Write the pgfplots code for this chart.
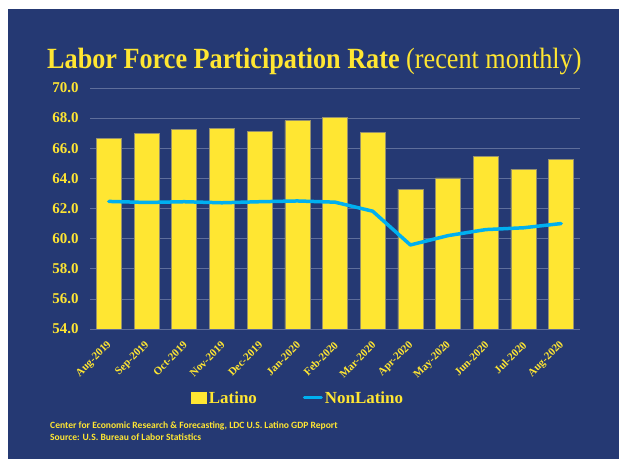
\documentclass[border=0pt]{standalone}
\usepackage{pgfplots}
\pgfplotsset{compat=1.18}
\usepackage{fontspec}
\setmainfont{Liberation Serif}
\newfontfamily\footfont{Carlito}
\definecolor{navy}{RGB}{37,57,115}
\definecolor{bary}{RGB}{255,230,50}
\definecolor{liney}{RGB}{0,176,240}
\definecolor{gridc}{RGB}{95,110,155}
\definecolor{barborder}{RGB}{150,145,110}
\begin{document}
\begin{tikzpicture}
\useasboundingbox (0bp,0bp) rectangle (619bp,459bp);
\fill[white] (0bp,0bp) rectangle (619bp,459bp);
\fill[navy] (8bp,0bp) rectangle (619bp,450bp);
\node[anchor=base west, text=bary, inner sep=0pt, yscale=1.12] at (47bp,390bp)
  {\fontsize{26.3}{30}\selectfont\bfseries Labor Force Participation Rate \mdseries(recent monthly)};
\begin{axis}[
  at={(90bp,130bp)}, anchor=south west,
  scale only axis, width=490bp, height=241bp,
  xmin=-0.5, xmax=12.5, ymin=54, ymax=70,
  ytick={54,56,...,70},
  xtick={0,...,12},
  xticklabels={Aug-2019,Sep-2019,Oct-2019,Nov-2019,Dec-2019,Jan-2020,Feb-2020,Mar-2020,Apr-2020,May-2020,Jun-2020,Jul-2020,Aug-2020},
  axis line style={draw=none},
  major tick length=0pt,
  ymajorgrids, major grid style={gridc, line width=0.7bp},
  yticklabel style={font=\fontsize{15}{18}\selectfont\bfseries, text=bary, xshift=-8bp},
  xticklabel style={rotate=45, anchor=east, font=\fontsize{11}{13}\selectfont\bfseries, text=bary, xshift=-6bp, yshift=-11bp},
  /pgf/number format/.cd, fixed, fixed zerofill, precision=1, assume math mode=true,
  /pgfplots/.cd,
  legend columns=2,
  legend style={at={(0.425,-0.286)}, anchor=center, draw=none, fill=none, text=bary,
    font=\fontsize{17}{20}\selectfont\bfseries,
    /tikz/every even column/.append style={column sep=44bp}},
]
\addplot[ybar, bar width=25bp, fill=bary, draw=barborder, line width=0.5bp,
  legend image code/.code={\fill[bary] (0bp,-5bp) rectangle (15bp,6bp);}]
  coordinates {(0,66.65) (1,66.98) (2,67.27) (3,67.34) (4,67.1) (5,67.83) (6,68.07) (7,67.07) (8,63.28) (9,64.04) (10,65.48) (11,64.6) (12,65.25)};
\addlegendentry{Latino}
\addplot[liney, line width=3.5bp, line join=round, line cap=round, mark=none,
  legend image code/.code={\draw[liney, line width=3bp] (0bp,0bp) -- (17bp,0bp);}]
  coordinates {(0,62.47) (1,62.4) (2,62.45) (3,62.38) (4,62.45) (5,62.5) (6,62.42) (7,61.82) (8,59.58) (9,60.2) (10,60.6) (11,60.72) (12,61.0)};
\addlegendentry{NonLatino}
\end{axis}
\node[anchor=base west, text=bary, inner sep=0pt] at (50bp,31bp)
  {\footfont\fontsize{9.6}{11}\selectfont\bfseries Center for Economic Research \& Forecasting, LDC U.S. Latino GDP Report};
\node[anchor=base west, text=bary, inner sep=0pt] at (50bp,18.5bp)
  {\footfont\fontsize{9.6}{11}\selectfont\bfseries Source: U.S. Bureau of Labor Statistics};
\end{tikzpicture}
\end{document}
